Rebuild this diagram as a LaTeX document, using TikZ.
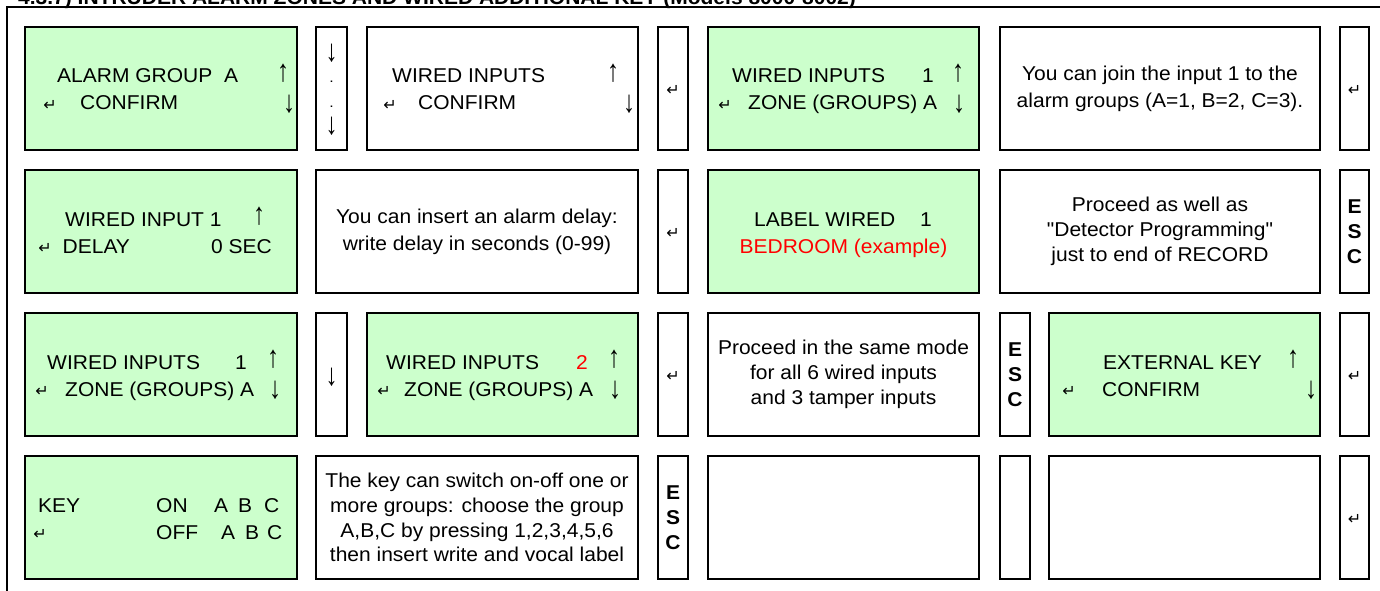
\documentclass[tikz,border=0pt]{standalone}
\usepackage{fontspec}
\setmainfont{Liberation Sans}[FakeStretch=1.05, Ligatures=TeXOff]
\newfontfamily\arrowfont{Liberation Sans}
\newfontfamily\retfont{DejaVu Sans}
\definecolor{lcdgreen}{HTML}{CCFFCC}
\definecolor{lcdred}{HTML}{FF0000}
\newcommand\mkbox[6]{\node[#2, minimum width={#5-#3}, minimum height={#6-#4}] (#1) at ({(#3+#5)/2},{(#4+#6)/2}) {};}
\newcommand\UpA{\scalebox{1.2}[1.55]{\arrowfont\fontsize{20}{20}\selectfont ↑}}
\newcommand\DnA{\scalebox{1.2}[1.55]{\arrowfont\fontsize{20}{20}\selectfont ↓}}
\newcommand\RetA{{\retfont\fontsize{16}{16}\selectfont ↵}}
\tikzset{
  panel/.style={draw=black, line width=2pt, inner sep=0pt, outer sep=0pt},
  lcd/.style={panel, fill=lcdgreen},
  note/.style={panel, fill=white},
  txt/.style={inner sep=0pt, font=\fontsize{20}{27}\selectfont},
  tw/.style={txt, anchor=base west},
  te/.style={txt, anchor=base east},
  tc/.style={txt, anchor=base},
  sym/.style={inner sep=0pt, anchor=center},
  paraA/.style={inner sep=0pt, align=center, font=\fontsize{20}{27}\selectfont},
  paraB/.style={inner sep=0pt, align=center, font=\fontsize{20}{25}\selectfont},
  paraC/.style={inner sep=0pt, align=center, font=\fontsize{20}{24.7}\selectfont},
  esc/.style={inner sep=0pt, align=center, font=\bfseries\fontsize{20}{25}\selectfont},
  frame/.style={line width=2pt},
}
\begin{document}
\begin{tikzpicture}[x=1pt, y=-1pt]
\useasboundingbox (0,0) rectangle (1380,591);
\clip (0,0) rectangle (1380,591);
% title (cut at the top edge)
\node[inner sep=0pt, anchor=base west, font=\bfseries\fontsize{20}{20}\selectfont] (title) at (18,4.5) {4.3.7) INTRUDER ALARM ZONES AND WIRED ADDITIONAL KEY (Models 8000-8002)};
% outer frame
\coordinate (frTR) at (1381,7);
\coordinate (frTL) at (6.5,7);
\coordinate (frBL) at (6.5,592);
\draw[frame] (frTR) -- (frTL) -- (frBL);

% ---------------- row 1 ----------------
\mkbox{r1a}{lcd}{25}{27}{297}{150}
\mkbox{r1b}{note}{316}{27}{347}{150}
\mkbox{r1c}{note}{367}{27}{638}{150}
\mkbox{r1d}{note}{658}{27}{688}{150}
\mkbox{r1e}{lcd}{708}{27}{979}{150}
\mkbox{r1f}{note}{1000}{27}{1320}{150}
\mkbox{r1g}{note}{1340}{27}{1369}{150}

\node[tw] (r1a1) at (57,83) {ALARM GROUP\ \ A};
\node[sym] (r1a2) at (283,73.5) {\UpA};
\node[sym] (r1a3) at (50,105) {\RetA};
\node[tw] (r1a4) at (80,110) {CONFIRM};
\node[sym] (r1a5) at (289,104.5) {\DnA};

\node[sym] (r1b1) at (331.5,53) {\DnA};
\node[sym] (r1b2) at (331.5,82) {\textbf{.}};
\node[sym] (r1b3) at (331.5,107) {\textbf{.}};
\node[sym] (r1b4) at (331.5,126) {\DnA};

\node[tw] (r1c1) at (392,83) {WIRED INPUTS};
\node[sym] (r1c2) at (613,73.5) {\UpA};
\node[sym] (r1c3) at (390,105) {\RetA};
\node[tw] (r1c4) at (418,110) {CONFIRM};
\node[sym] (r1c5) at (629,104.5) {\DnA};

\node[sym] (r1d1) at (673,90) {\RetA};

\node[tw] (r1e1) at (732,83) {WIRED INPUTS};
\node[tc] (r1e2) at (928,83) {1};
\node[sym] (r1e3) at (958,73.5) {\UpA};
\node[sym] (r1e4) at (725,105) {\RetA};
\node[tw] (r1e5) at (748,110) {ZONE (GROUPS) A};
\node[sym] (r1e6) at (959,104.5) {\DnA};

\node[paraA] (r1f1) at (r1f.center) {You can join the input 1 to the\\alarm groups (A=1, B=2, C=3).};

\node[sym] (r1g1) at (1354.5,90) {\RetA};

% ---------------- row 2 ----------------
\mkbox{r2a}{lcd}{25}{170}{297}{293}
\mkbox{r2b}{note}{316}{170}{638}{293}
\mkbox{r2c}{note}{658}{170}{688}{293}
\mkbox{r2d}{lcd}{708}{170}{979}{293}
\mkbox{r2e}{note}{1000}{170}{1320}{293}
\mkbox{r2f}{note}{1340}{170}{1369}{293}

\node[tw] (r2a1) at (65,226) {WIRED INPUT 1};
\node[sym] (r2a2) at (259,216.5) {\UpA};
\node[sym] (r2a3) at (45,248) {\RetA};
\node[tw] (r2a4) at (62.5,253) {DELAY};
\node[te] (r2a5) at (272,253) {0 SEC};

\node[paraA] (r2b1) at (r2b.center) {You can insert an alarm delay:\\write delay in seconds (0-99)};

\node[sym] (r2c1) at (673,233) {\RetA};

\node[tw] (r2d1) at (754,226) {LABEL WIRED};
\node[tw] (r2d2) at (920,226) {1};
\node[tc, text=lcdred] (r2d3) at (843.5,253) {BEDROOM (example)};

\node[paraB] (r2e1) at (r2e.center) {Proceed as well as\\"Detector Programming"\\just to end of RECORD};

\node[esc] (r2f1) at (r2f.center) {E\\S\\C};

% ---------------- row 3 ----------------
\mkbox{r3a}{lcd}{25}{313}{297}{436}
\mkbox{r3b}{note}{316}{313}{347}{436}
\mkbox{r3c}{lcd}{367}{313}{638}{436}
\mkbox{r3d}{note}{658}{313}{688}{436}
\mkbox{r3e}{note}{708}{313}{979}{436}
\mkbox{r3f}{note}{1000}{313}{1030}{436}
\mkbox{r3g}{lcd}{1049}{313}{1320}{436}
\mkbox{r3h}{note}{1340}{313}{1369}{436}

\node[tw] (r3a1) at (47,369) {WIRED INPUTS};
\node[tc] (r3a2) at (241,369) {1};
\node[sym] (r3a3) at (273,359.5) {\UpA};
\node[sym] (r3a4) at (42,391) {\RetA};
\node[tw] (r3a5) at (65,396) {ZONE (GROUPS) A};
\node[sym] (r3a6) at (275,390.5) {\DnA};

\node[sym] (r3b1) at (331.5,377) {\DnA};

\node[tw] (r3c1) at (386,369) {WIRED INPUTS};
\node[tc, text=lcdred] (r3c2) at (582,369) {2};
\node[sym] (r3c3) at (614,359.5) {\UpA};
\node[sym] (r3c4) at (384,391) {\RetA};
\node[tw] (r3c5) at (404,396) {ZONE (GROUPS) A};
\node[sym] (r3c6) at (615,390.5) {\DnA};

\node[sym] (r3d1) at (673,376) {\RetA};

\node[paraB] (r3e1) at (r3e.center) {Proceed in the same mode\\for all 6 wired inputs\\and 3 tamper inputs};

\node[esc] (r3f1) at (r3f.center) {E\\S\\C};

\node[tw] (r3g1) at (1103,369) {EXTERNAL KEY};
\node[sym] (r3g2) at (1293,359.5) {\UpA};
\node[sym] (r3g3) at (1069,391) {\RetA};
\node[tw] (r3g4) at (1102,396) {CONFIRM};
\node[sym] (r3g5) at (1311,390.5) {\DnA};

\node[sym] (r3h1) at (1354.5,376) {\RetA};

% ---------------- row 4 ----------------
\mkbox{r4a}{lcd}{25}{456}{297}{579}
\mkbox{r4b}{note}{316}{456}{638}{579}
\mkbox{r4c}{note}{658}{456}{688}{579}
\mkbox{r4d}{note}{708}{456}{979}{579}
\mkbox{r4e}{note}{1000}{456}{1030}{579}
\mkbox{r4f}{note}{1049}{456}{1320}{579}
\mkbox{r4g}{note}{1340}{456}{1369}{579}

\node[tw] (r4a1) at (38,512) {KEY};
\node[tw] (r4a2) at (156,512) {ON};
\node[tw] (r4a3) at (214,512) {A\hspace{10pt}B\hspace{12pt}C};
\node[sym] (r4a4) at (40,534) {\RetA};
\node[tw] (r4a5) at (156,539) {OFF};
\node[tw] (r4a6) at (221,539) {A\hspace{10pt}B\hspace{8pt}C};

\node[paraC] (r4b1) at (r4b.center) {The key can switch on-off one or\\more groups: choose the group\\A,B,C by pressing 1,2,3,4,5,6\\then insert write and vocal label};

\node[esc] (r4c1) at (r4c.center) {E\\S\\C};

\node[sym] (r4g1) at (1354.5,519) {\RetA};
\end{tikzpicture}
\end{document}
